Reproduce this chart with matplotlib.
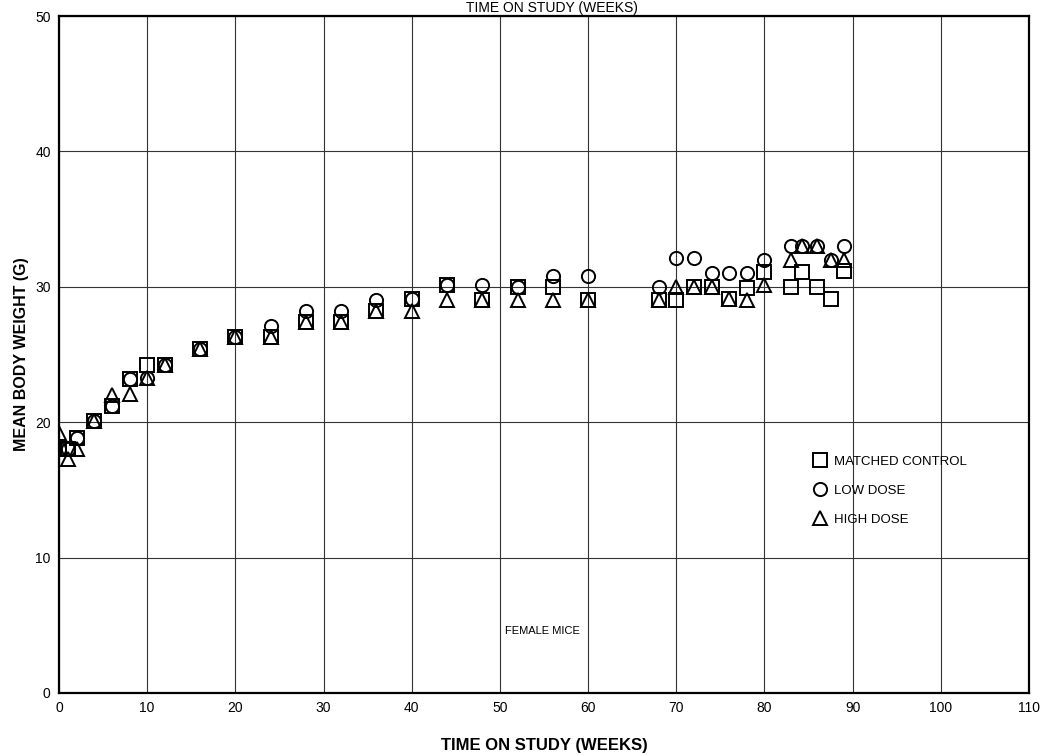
import matplotlib
matplotlib.use("Agg")
import matplotlib.pyplot as plt

weeks = [0, 1, 2, 4, 6, 8, 10, 12, 16, 20, 24, 28, 32, 36, 40, 44, 48, 52, 56, 60,
         68, 70, 72, 74, 76, 78, 80, 83, 84.3, 86, 87.5, 89]
control = [18.0, 18.0, 18.8, 20.1, 21.2, 23.2, 24.2, 24.2, 25.4, 26.3, 26.3, 27.4, 27.4, 28.2, 29.1,
           30.1, 29.0, 30.0, 30.0, 29.0, 29.0, 29.0, 30.0, 30.0, 29.1, 29.9, 31.1, 30.0, 31.1, 30.0, 29.1, 31.2]
low_dose = [18.0, 18.0, 18.8, 20.1, 21.2, 23.2, 23.3, 24.2, 25.4, 26.3, 27.1, 28.2, 28.2, 29.0, 29.1,
            30.1, 30.1, 30.0, 30.8, 30.8, 30.0, 32.1, 32.1, 31.0, 31.0, 31.0, 32.0, 33.0, 33.0, 33.0, 32.0, 33.0]
high_dose = [19.2, 17.3, 18.0, 20.1, 22.0, 22.1, 23.3, 24.2, 25.4, 26.3, 26.3, 27.4, 27.4, 28.2, 28.2,
             29.0, 29.0, 29.0, 29.0, 29.0, 29.0, 30.0, 30.0, 30.0, 29.1, 29.0, 30.1, 32.0, 33.0, 33.0, 32.0, 32.0]

series_labels = ["MATCHED CONTROL", "LOW DOSE", "HIGH DOSE"]
x_ticks = [0, 10, 20, 30, 40, 50, 60, 70, 80, 90, 100, 110]
y_ticks = [0, 10, 20, 30, 40, 50]

plt.rcParams['font.family'] = ['Liberation Sans Narrow', 'Liberation Sans', 'DejaVu Sans']

fig = plt.figure(figsize=(10.42, 7.56), dpi=100)
ax = fig.add_axes([59/1042, 1 - 693/756, (1029-59)/1042, (693-16)/756])

ax.set_xlim(0, 110)
ax.set_ylim(0, 50)
ax.set_xticks(x_ticks)
ax.set_yticks(y_ticks)
ax.tick_params(length=0, labelsize=10, pad=6)
ax.grid(True, color='#333333', linewidth=0.8)
ax.set_axisbelow(True)
for s in ax.spines.values():
    s.set_linewidth(1.6)
    s.set_color('black')

mk = dict(linestyle='none', markerfacecolor='none', markeredgecolor='black', markeredgewidth=1.4, markersize=9.5)
ax.plot(weeks, low_dose, marker='o', label=series_labels[1], **mk)
ax.plot(weeks, high_dose, marker='^', label=series_labels[2], **mk)
ax.plot(weeks, control, marker='s', label=series_labels[0], **mk)

h, l = ax.get_legend_handles_labels()
order = [2, 0, 1]
leg = ax.legend([h[i] for i in order], [l[i] for i in order], loc='upper left',
                bbox_to_anchor=((802 - 59) / 970, 1 - (444 - 16) / 677), frameon=False,
                fontsize=9.5, handletextpad=0.5, labelspacing=1.25, handlelength=1.0)

ax.text(54.8, 4.6, "FEMALE MICE", fontsize=8, ha='center', va='center')

ax.set_xlabel("TIME ON STUDY (WEEKS)", fontsize=12, fontweight='bold', labelpad=16,
              family=['Liberation Sans', 'DejaVu Sans'])
ax.set_ylabel("MEAN BODY WEIGHT (G)", fontsize=11.5, fontweight='bold', labelpad=4,
              family=['Liberation Sans', 'DejaVu Sans'])
fig.text(0.53, 1 - 1/756, "TIME ON STUDY (WEEKS)", fontsize=10, ha='center', va='top')

fig.savefig("out.png", dpi=100)
